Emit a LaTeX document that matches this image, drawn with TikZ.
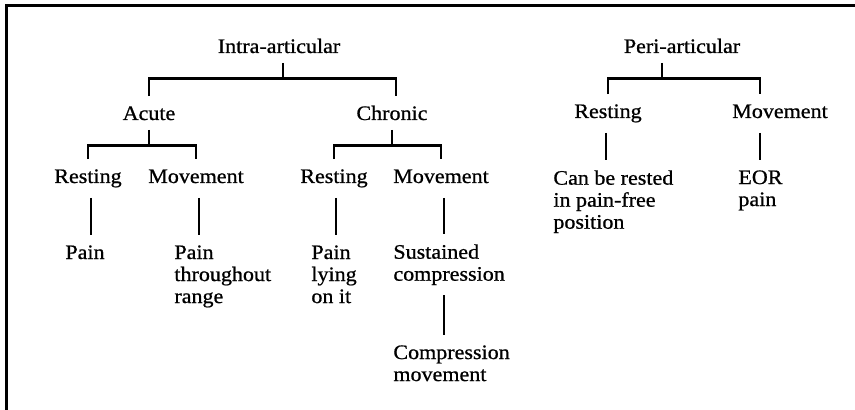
\documentclass[tikz,border=0pt]{standalone}
\usepackage{fontspec}
\setmainfont{Liberation Serif}[FakeStretch=1.07, FakeBold=0.8]
\tikzset{
  basic/.style  = {font=\fontsize{10.3}{11}\selectfont, inner xsep=0pt},
  head/.style   = {basic, anchor=base, text height=9.5pt, text depth=2.5pt,
                   inner ysep=2.2pt},
  branch/.style = {head, text depth=5pt},
  leaf/.style   = {basic, anchor=north west, align=left, inner ysep=5pt},
  frame/.style  = {line width=1.5pt},
  link/.style   = {line width=1.3pt}
}
\begin{document}
\begin{tikzpicture}[x=0.5pt, y=-0.5pt]

\useasboundingbox (0,0) rectangle (855,410);
\draw[frame] (855,6) -- (6,6) -- (6,410);

% the two main groups and the first split
\node[head] (Intra)   at (279,53)  {Intra-articular};
\node[head] (Peri)    at (682,53)  {Peri-articular};
\node[head] (Acute)   at (149,120) {Acute};
\node[head] (Chronic) at (392,120) {Chronic};

\foreach \n/\x/\y/\t in {RestA/88/183/Resting, MoveA/196/183/Movement,
                         RestC/334/183/Resting, MoveC/441/183/Movement,
                         RestP/608/118/Resting, MoveP/780/118/Movement}
  \node[branch] (\n) at (\x,\y) {\t};

% what the patient reports
\node[leaf] (PainR)  at (65,235)  {Pain};
\node[leaf] (PainT)  at (174,235) {Pain\\throughout\\range};
\node[leaf] (PainL)  at (311,235) {Pain\\lying\\on it};
\node[leaf] (Sust)   at (393,234) {Sustained\\compression};
\node[leaf] (Compr)  at (393,335) {Compression\\movement};
\node[leaf] (Rested) at (553,160) {Can be rested\\in pain-free\\position};
\node[leaf] (EOR)    at (738,160) {EOR\\pain};

% forks
\foreach \p/\a/\b/\s in {Intra/Acute/Chronic/2pt, Acute/RestA/MoveA/0pt,
                         Chronic/RestC/MoveC/0pt, Peri/RestP/MoveP/-10pt}{
  \draw[link] ([xshift=\s]\p.south) -- ++(0,16) coordinate (\p-bar);
  \draw[link] (\a.north) |- (\p-bar) -| ([xshift=\s]\b.north);
  }

% single drops
\foreach \p/\c/\s in {RestA/PainR/1.5pt, MoveA/PainT/1.5pt, RestC/PainL/1pt,
                      MoveC/Sust/1.5pt, RestP/Rested/-1pt, MoveP/EOR/-10pt}
  \draw[link] ([xshift=\s]\p.south) -- ([xshift=\s]\p.south |- \c.north);
\draw[link] ([xshift=1.5pt]MoveC.south |- Sust.south)
  -- ([xshift=1.5pt]MoveC.south |- Compr.north);

\end{tikzpicture}
\end{document}
